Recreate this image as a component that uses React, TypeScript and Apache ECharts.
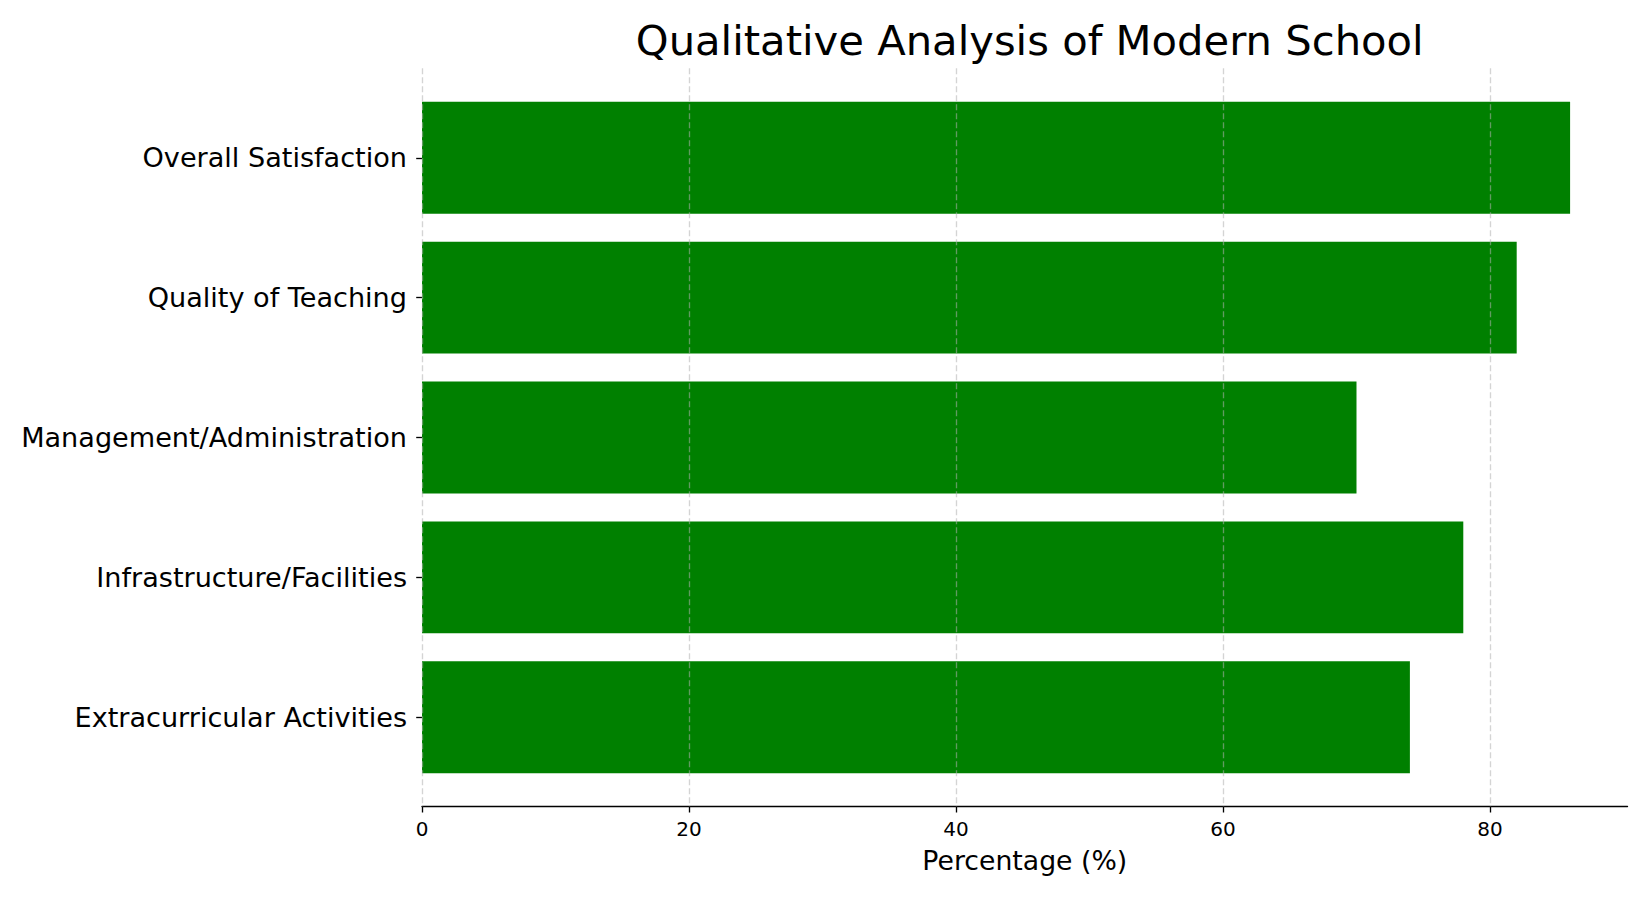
import { useEffect, useRef } from 'react';
import * as echarts from 'echarts';

const categories = [
  'Overall Satisfaction',
  'Quality of Teaching',
  'Management/Administration',
  'Infrastructure/Facilities',
  'Extracurricular Activities'
];
const percentages = [86, 82, 70, 78, 74];
const xTicks = [0, 20, 40, 60, 80];

const FONT = "'DejaVu Sans', sans-serif";
const X_MAX = 90.3;

// plot box (matplotlib axes) in px
const LEFT = 422;
const TOP = 68.3;
const WIDTH = 1205.5;
const HEIGHT = 738.4;

const App = () => {
  const chartRef = useRef<HTMLDivElement>(null);

  useEffect(() => {
    if (!chartRef.current) return;
    document.body.style.margin = '0';

    const chart = echarts.init(chartRef.current, undefined, { renderer: 'svg' });
    const unit = WIDTH / X_MAX;
    // y range in matplotlib is -0.64 .. 4.64 → band of 1 category
    const band = HEIGHT / 5.28;

    const option: echarts.EChartsOption = {
      animation: false,
      textStyle: { fontFamily: FONT },
      title: {
        text: 'Qualitative Analysis of Modern School',
        left: LEFT + WIDTH / 2,
        textAlign: 'center',
        top: 14,
        textStyle: { fontFamily: FONT, fontSize: 41.7, fontWeight: 'normal', color: '#000' }
      },
      grid: [
        // axis line + name
        { left: LEFT, top: TOP, width: WIDTH, height: HEIGHT },
        // bars
        { left: LEFT, top: TOP + 0.14 * band, width: WIDTH, height: 5 * band },
        // ticks, labels, dashed grid
        { left: LEFT, top: TOP, width: unit * xTicks[xTicks.length - 1], height: HEIGHT }
      ],
      xAxis: [
        {
          gridIndex: 0,
          type: 'value',
          min: 0,
          max: X_MAX,
          axisLine: { show: true, lineStyle: { color: '#000', width: 1.33 } },
          axisTick: { show: false },
          axisLabel: { show: false },
          splitLine: { show: false },
          name: 'Percentage (%)',
          nameLocation: 'middle',
          nameGap: 40,
          nameTextStyle: { fontFamily: FONT, fontSize: 26.7, color: '#000' }
        },
        {
          gridIndex: 1,
          type: 'value',
          min: 0,
          max: X_MAX,
          show: false
        },
        {
          gridIndex: 2,
          type: 'value',
          min: 0,
          max: xTicks[xTicks.length - 1],
          interval: 20,
          z: 10,
          axisLine: { show: false },
          axisTick: { show: true, length: 5.8, lineStyle: { color: '#000', width: 1.33 } },
          axisLabel: { show: true, margin: 12, fontFamily: FONT, fontSize: 20, color: '#000' },
          splitLine: {
            show: true,
            lineStyle: { color: 'rgba(176,176,176,0.55)', type: [6, 3], width: 1.33 }
          }
        }
      ],
      yAxis: [
        { gridIndex: 0, type: 'value', show: false },
        {
          gridIndex: 1,
          type: 'category',
          data: categories,
          inverse: true,
          axisLine: { show: false },
          axisTick: { show: true, alignWithLabel: true, length: 5.8, lineStyle: { color: '#000', width: 1.33 } },
          axisLabel: { margin: 15, fontFamily: FONT, fontSize: 27.1, color: '#000' },
          splitLine: { show: false }
        },
        { gridIndex: 2, type: 'value', show: false }
      ],
      series: [
        {
          type: 'bar',
          xAxisIndex: 1,
          yAxisIndex: 1,
          data: percentages,
          barWidth: '80%',
          itemStyle: { color: '#008000' }
        }
      ]
    };

    chart.setOption(option);
    return () => chart.dispose();
  }, []);

  return <div ref={chartRef} style={{ width: 1650, height: 900 }} />;
};

export default App;
